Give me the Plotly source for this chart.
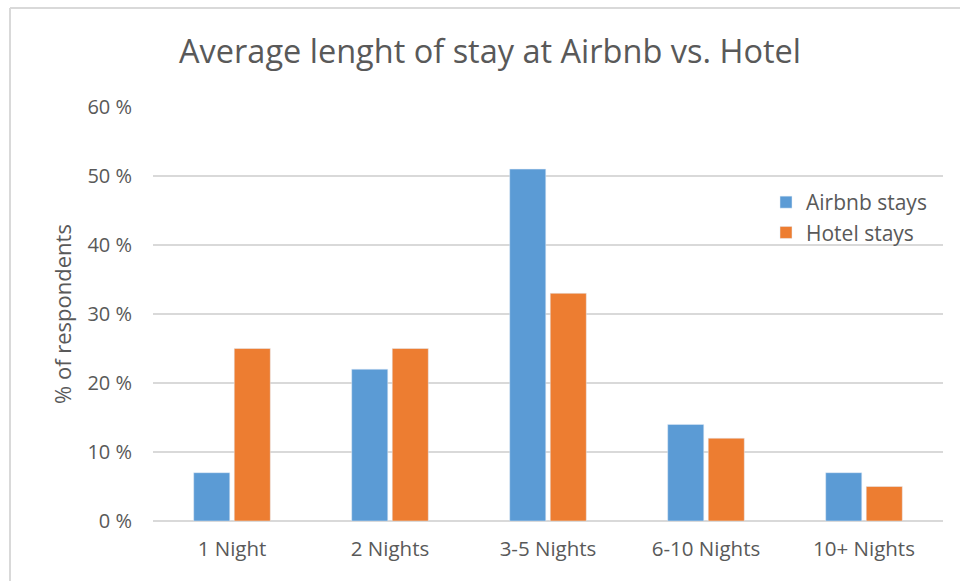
import plotly.graph_objects as go

categories = ["1 Night", "2 Nights", "3-5 Nights", "6-10 Nights", "10+ Nights"]
airbnb = [7, 22, 51, 14, 7]
hotel = [25, 25, 33, 12, 5]
y_ticks = [0, 10, 20, 30, 40, 50, 60]
y_ticklabels = ["0 %", "10 %", "20 %", "30 %", "40 %", "50 %", "60 %"]

FONT = "Open Sans, Roboto, Arial, sans-serif"
GRAY = "#595959"

fig = go.Figure()
fig.add_trace(go.Bar(name="Airbnb stays", x=categories, y=airbnb, marker_color="#5B9BD5"))
fig.add_trace(go.Bar(name="Hotel stays", x=categories, y=hotel, marker_color="#ED7D31"))

L, R, T, B = 153, 17, 107, 60
W, H = 960, 581
pw, ph = W - L - R, H - T - B

def px_x(p):
    return (p - L) / pw

def px_y(p):
    return (H - B - p) / ph

fig.update_layout(
    width=W, height=H,
    margin=dict(l=L, r=R, t=T, b=B),
    paper_bgcolor="white", plot_bgcolor="white",
    barmode="group", bargap=0.487, bargroupgap=0.11,
    font=dict(family=FONT, color=GRAY, size=17),
    showlegend=True,
    legend=dict(x=px_x(766), y=px_y(182), xanchor="left", yanchor="top",
                font=dict(size=21, color=GRAY), bgcolor="rgba(0,0,0,0)",
                itemwidth=30, tracegroupgap=0),
    xaxis=dict(showgrid=False, showline=False, ticks="", tickfont=dict(size=20.5, color=GRAY)),
    yaxis=dict(range=[0, 60], tickvals=y_ticks, ticktext=y_ticklabels,
               showgrid=True, gridcolor="#D9D9D9", gridwidth=1.5,
               zeroline=True, zerolinecolor="#D9D9D9", zerolinewidth=2,
               showline=False, ticks="", ticklen=0,
               tickfont=dict(size=20, color=GRAY)),
    annotations=[
        dict(text="Average lenght of stay at Airbnb vs. Hotel", x=px_x(490), y=px_y(50),
             xref="paper", yref="paper", showarrow=False, xanchor="center", yanchor="middle",
             font=dict(size=32.5, color=GRAY, family=FONT)),
        dict(text="% of respondents", x=px_x(62), y=px_y(314),
             xref="paper", yref="paper", showarrow=False, xanchor="center", yanchor="middle",
             textangle=-90, font=dict(size=22, color=GRAY, family=FONT)),
    ],
    shapes=[
        dict(type="line", xref="paper", yref="paper", x0=px_x(10), x1=px_x(962), y0=px_y(8), y1=px_y(8),
             line=dict(color="#D9D9D9", width=2)),
        dict(type="line", xref="paper", yref="paper", x0=px_x(10), x1=px_x(10), y0=px_y(8), y1=px_y(585),
             line=dict(color="#D9D9D9", width=2)),
    ],
)
fig.update_yaxes(ticklabelstandoff=20)
fig.update_xaxes(ticklabelstandoff=13)

fig.write_html("out.html")
